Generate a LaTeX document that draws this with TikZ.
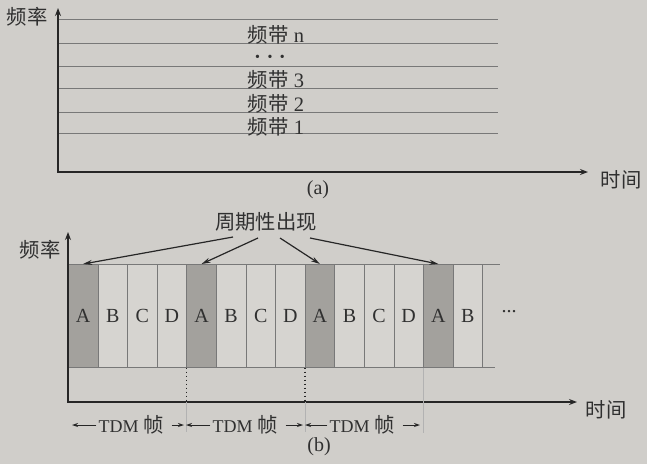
\documentclass[tikz,border=0pt]{standalone}
\usepackage{fontspec}
\setmainfont{Liberation Serif}
\newfontfamily\cjk[Scale=1.13]{Noto Sans CJK SC}
\usetikzlibrary{arrows.meta}
\definecolor{paper}{RGB}{208,206,202}
\definecolor{ink}{RGB}{48,48,48}
\definecolor{lightcol}{RGB}{214,212,208}
\definecolor{darkcol}{RGB}{163,161,157}
\definecolor{rulegrey}{RGB}{120,120,120}
\begin{document}
\begin{tikzpicture}[x=1pt,y=-1pt,
  font=\fontsize{18}{21}\selectfont, text=ink,
  axis/.style={line width=1.8pt, draw=black!85, {Stealth[length=8pt,width=6pt]}-{Stealth[length=8pt,width=6pt]}},
  band/.style={line width=0.8pt, draw=rulegrey},
  lbl/.style={inner sep=0pt, text=ink},
  bandlbl/.style={lbl, font=\fontsize{20.5}{22}\selectfont},
  caplbl/.style={lbl, font=\fontsize{20}{22}\selectfont},
  colbox/.style={draw=rulegrey, line width=0.6pt, minimum width=29.6pt, minimum height=103pt, inner sep=0pt, anchor=north west, font=\fontsize{20}{22}\selectfont},
  callout/.style={line width=1.2pt, draw=black!85, -{Stealth[length=9pt,width=5pt]}},
  dim/.style={line width=1pt, draw=black!85, -{Stealth[length=6pt,width=4pt]}},
  dotline/.style={line width=1.8pt, draw=black!85, dash pattern=on 1.8pt off 2.2pt},
  faint/.style={line width=0.5pt, draw=black!30}]
\useasboundingbox (0,0) rectangle (647,464);
\fill[paper] (0,0) rectangle (647,464);

% ---------- (a) ----------
\coordinate (ya) at (58,8);
\coordinate (oa) at (58,172);
\coordinate (xa) at (588,172);
\foreach \y in {19,43,66,88,112,133} \draw[band] (58,\y) -- (498,\y);
\draw[axis] (ya) -- (oa) -- (xa);
\node[lbl] (fa) at (27,17) {\cjk 频率};
\node[lbl] (ta) at (621,180) {\cjk 时间};
\node[bandlbl] (bn) at (276,35) {{\cjk\fontsize{18}{21}\selectfont 频带} n};
\node[lbl] (bdots) at (270,58) {\fontsize{14}{14}\selectfont •\hspace{7.5pt}•\hspace{7.5pt}•};
\node[bandlbl] (b3) at (276,80) {{\cjk\fontsize{18}{21}\selectfont 频带} 3};
\node[bandlbl] (b2) at (276,104) {{\cjk\fontsize{18}{21}\selectfont 频带} 2};
\node[bandlbl] (b1) at (276,127) {{\cjk\fontsize{18}{21}\selectfont 频带} 1};
\node[caplbl] (capa) at (318,190) {(a)};

% ---------- (b) ----------
\foreach \i/\l/\f in {0/A/darkcol,1/B/lightcol,2/C/lightcol,3/D/lightcol,
                      4/A/darkcol,5/B/lightcol,6/C/lightcol,7/D/lightcol,
                      8/A/darkcol,9/B/lightcol,10/C/lightcol,11/D/lightcol,
                      12/A/darkcol,13/B/lightcol}{
  \pgfmathsetmacro\xx{68+29.6*\i}
  \node[colbox, fill=\f] (c\i) at (\xx,264) {\l};
}
\draw[band] (68,264) -- (500,264);
\draw[band] (68,367) -- (495,367);
\node[caplbl] (more) at (509,312) {...};

\coordinate (yb) at (68,232);
\coordinate (ob) at (68,402);
\coordinate (xb) at (577,402);
\draw[axis] (yb) -- (ob) -- (xb);
\node[lbl] (fb) at (40,250) {\cjk 频率};
\node[lbl] (tb) at (606,410) {\cjk 时间};

\draw[dotline] (c4.south west) -- (c4.south west |- ob);
\draw[dotline] (c8.south west) -- (c8.south west |- ob);
\draw[faint] (c4.south west |- ob) -- ++(0,30);
\draw[faint] (c8.south west |- ob) -- ++(0,30);
\draw[faint] (c12.south west) -- ++(0,65);

% callout
\node[lbl] (per) at (266,222) {\cjk 周期性出现};
\coordinate (s1) at (233,237);
\coordinate (s2) at (258,238);
\coordinate (s3) at (280,238);
\coordinate (s4) at (310,238);
\draw[callout] (s1) -- (c0.north);
\draw[callout] (s2) -- (c4.north);
\draw[callout] (s3) -- (c8.north);
\draw[callout] (s4) -- (c12.north);

% TDM frames
\coordinate (f0) at (72,425);
\coordinate (f1) at (184,425);
\coordinate (f2) at (303,425);
\coordinate (f3) at (420,425);
\node[lbl] (t1) at (131,425) {TDM {\cjk 帧}};
\node[lbl] (t2) at (245,425) {TDM {\cjk 帧}};
\node[lbl] (t3) at (362,425) {TDM {\cjk 帧}};
\draw[dim] ([xshift=-2pt]t1.west) -- (f0);
\draw[dim] ([xshift=8pt]t1.east) -- (f1);
\draw[dim] ([xshift=-2pt]t2.west) -- ([xshift=2pt]f1);
\draw[dim] ([xshift=8pt]t2.east) -- (f2);
\draw[dim] ([xshift=-2pt]t3.west) -- ([xshift=2pt]f2);
\draw[dim] ([xshift=8pt]t3.east) -- (f3);
\node[caplbl] (capb) at (319,447) {(b)};
\end{tikzpicture}
\end{document}
